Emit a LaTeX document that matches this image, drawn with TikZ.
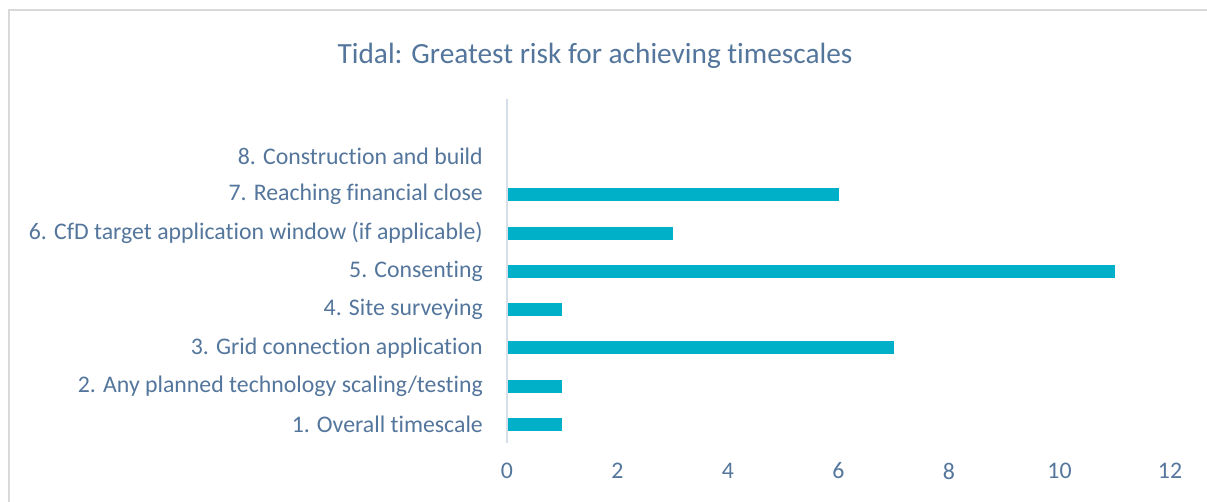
\documentclass[tikz,border=0pt]{standalone}
\usepackage{fontspec}
\setmainfont{Carlito}[Ligatures={NoCommon}]
\definecolor{txt}{RGB}{84,118,156}
\definecolor{bar}{RGB}{0,176,200}
\definecolor{axisc}{RGB}{214,222,235}
\definecolor{frame}{RGB}{217,217,217}
\begin{document}
\begin{tikzpicture}[x=1pt,y=-1pt,
  lab/.style={anchor=east,text=txt,font=\fontsize{23.8}{27}\selectfont,inner sep=0pt},
  tick/.style={anchor=center,text=txt,font=\fontsize{23.8}{27}\selectfont,inner sep=0pt},
  barbox/.style={fill=bar,draw=none}]
\useasboundingbox (0,0) rectangle (1207,501);
\fill[white] (0,0) rectangle (1207,501);
\draw[frame,line width=2pt] (1210,10) -- (9,10) -- (9,505);
\node[text=txt,font=\fontsize{29.3}{34}\selectfont,inner sep=0pt] (title) at (595,56) {Tidal: Greatest risk for achieving timescales};
\coordinate (axtop) at (507,99);
\coordinate (axbot) at (507,443);
\draw[axisc,line width=1.5pt] (axtop) -- (axbot);
\def\u{55.25}
\foreach \i/\v/\t in {8/0/{8. Construction and build},7/6/{7. Reaching financial close},6/3/{6. CfD target application window (if applicable)},5/11/{5. Consenting},4/1/{4. Site surveying},3/7/{3. Grid connection application},2/1/{2. Any planned technology scaling/testing},1/1/{1. Overall timescale}}{
  \pgfmathsetmacro{\yc}{424.5-(\i-1)*38.3}
  \node[lab] (l\i) at (483,\yc) {\t};
  \ifdim\v pt>0pt
    \fill[bar] (508,\yc-6.5) rectangle ({507+\v*\u},\yc+6.5);
  \fi
}
\foreach \k in {0,2,4,6,8,10,12}{
  \node[tick] (t\k) at ({507+\k*\u},471) {\k};
}
\end{tikzpicture}
\end{document}
